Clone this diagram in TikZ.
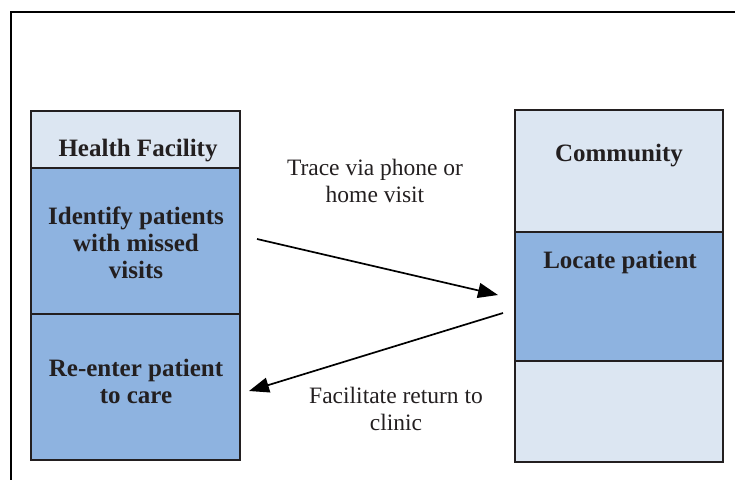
\documentclass[tikz,border=0pt]{standalone}
\usepackage{fontspec}
\setmainfont{Liberation Serif}
\usetikzlibrary{arrows.meta}
\definecolor{lightbox}{HTML}{DCE6F2}
\definecolor{darkbox}{HTML}{8EB3E0}
\definecolor{inktext}{HTML}{231F20}
\tikzset{
  boxlight/.style={draw=inktext, line width=1.5pt, fill=lightbox, rectangle, inner sep=0pt},
  boxdark/.style={draw=inktext, line width=1.5pt, fill=darkbox, rectangle, inner sep=0pt},
  boldtext/.style={text=inktext, font=\fontsize{25}{27}\selectfont\bfseries, align=center, inner sep=0pt},
  plaintext/.style={text=inktext, font=\fontsize{23.5}{27}\selectfont, align=center, inner sep=0pt},
  flow/.style={draw=black, line width=1.7pt, -{Triangle[length=20pt,width=15pt]}},
}
\begin{document}
\begin{tikzpicture}[x=1pt,y=-1pt]
\useasboundingbox (0,0) rectangle (735,479);
% frame
\draw[line width=2.5pt, black] (11,480) -- (11,12) -- (736,12);
% left column
\node[boxlight, minimum width=209pt, minimum height=57pt] (hf) at (135.5,139.5) {};
\node[boxdark, minimum width=209pt, minimum height=146pt] (id) at (135.5,241) {};
\node[boxdark, minimum width=209pt, minimum height=146pt] (re) at (135.5,387) {};
% right column
\node[boxlight, minimum width=208pt, minimum height=122pt] (cm) at (619,171) {};
\node[boxdark, minimum width=208pt, minimum height=129pt] (lp) at (619,296.5) {};
\node[boxlight, minimum width=208pt, minimum height=101pt] (bt) at (619,411.5) {};
% texts
\node[boldtext] (hft) at (138,151) {Health Facility};
\node[boldtext] (idt) at (136,243) {Identify patients\\with missed\\visits};
\node[boldtext] (ret) at (136,381) {Re-enter patient\\to care};
\node[boldtext] (cmt) at (619,156) {Community};
\node[boldtext] (lpt) at (620,262) {Locate patient};
\node[plaintext] (tr) at (375,181) {Trace via phone or\\home visit};
\node[plaintext] (fa) at (396,409) {Facilitate return to\\clinic};
% arrows
\coordinate (a1s) at (257,239);
\coordinate (a1e) at (498,295);
\coordinate (a2s) at (503,313);
\coordinate (a2e) at (249,391);
\draw[flow] (a1s) -- (a1e);
\draw[flow] (a2s) -- (a2e);
\end{tikzpicture}
\end{document}
